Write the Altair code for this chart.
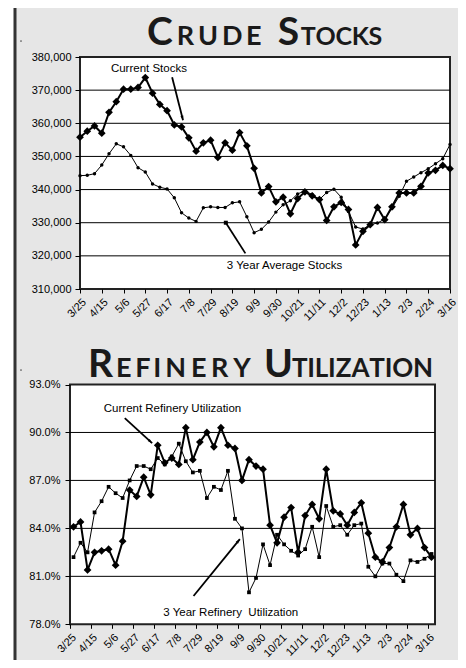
import json
import altair as alt
import pandas as pd

# ---------------- data ----------------
date_labels = ["3/25", "4/15", "5/6", "5/27", "6/17", "7/8", "7/29", "8/19", "9/9",
               "9/30", "10/21", "11/11", "12/2", "12/23", "1/13", "2/3", "2/24", "3/16"]

crude_current = [355800, 357600, 359200, 357000, 363300, 366500, 370300, 370300, 370800, 373800,
                 369100, 365700, 363800, 359500, 358900, 355600, 351600, 354100, 354900, 349700,
                 354100, 351900, 357200, 353200, 346400, 339000, 340900, 336300, 337700, 332700,
                 337300, 339300, 338100, 337000, 330700, 334800, 336100, 334000, 323300, 327400,
                 329400, 334600, 330900, 334800, 339000, 339000, 339000, 341000, 345000, 345800,
                 347300, 346300]
crude_avg = [344200, 344300, 344800, 347400, 350800, 353800, 352900, 350300, 346600, 345300,
             341700, 340700, 340200, 337500, 333000, 331400, 330400, 334500, 334800, 334600,
             334600, 336000, 336300, 331800, 327000, 328000, 330200, 333200, 335400, 336600,
             338700, 339600, 338500, 337000, 339100, 340100, 337700, 333400, 328700, 328100,
             329400, 329900, 331100, 334400, 338000, 342500, 343800, 345100, 346300, 347800,
             349300, 353600]
crude_ticks = [310000, 320000, 330000, 340000, 350000, 360000, 370000, 380000]

ref_current = [84.1, 84.4, 81.4, 82.5, 82.6, 82.7, 81.7, 83.2, 86.4, 86.0,
               87.2, 86.1, 89.2, 88.1, 88.4, 88.0, 90.3, 88.3, 89.4, 90.0,
               89.1, 90.3, 89.2, 89.0, 87.0, 88.3, 87.9, 87.7, 84.2, 83.1,
               84.7, 85.3, 82.5, 84.8, 85.5, 84.6, 87.7, 85.1, 84.9, 84.2,
               85.0, 85.6, 83.7, 82.2, 81.9, 82.8, 84.1, 85.5, 83.6, 84.0,
               82.8, 82.2]
ref_avg = [82.2, 83.1, 82.5, 85.0, 85.7, 86.6, 86.2, 85.9, 87.0, 87.9,
           87.9, 87.7, 88.4, 88.0, 88.5, 89.3, 88.2, 87.5, 87.6, 85.9,
           86.6, 86.4, 87.6, 84.6, 84.0, 80.0, 80.9, 83.0, 81.7, 83.6,
           83.0, 82.6, 82.3, 82.7, 84.1, 82.2, 85.4, 84.1, 84.2, 83.6,
           84.2, 84.3, 81.6, 81.0, 81.8, 81.8, 81.1, 80.7, 82.0, 81.9,
           82.1, 82.4]
ref_ticks = [78.0, 81.0, 84.0, 87.0, 90.0, 93.0]

# ---------------- layout ----------------
W, H = 450, 652
BG = "#e6e6e6"
AX_FONT = "Liberation Sans"
TITLE_FONT = "Lato"
lab_arr = json.dumps(date_labels)

weeks = list(range(len(crude_current)))
crude_df = pd.DataFrame({"week": weeks, "current": crude_current, "avg": crude_avg})
ref_df = pd.DataFrame({"week": weeks, "current": ref_current, "avg": ref_avg})

ARROW = "M0,0L0.55,1.7L-0.55,1.7Z"


def axis_common(**kw):
    base = dict(title=None, grid=False, domain=False, tickColor="black", tickWidth=1,
                labelFont=AX_FONT, labelFontSize=11, labelColor="black",
                labelOverlap=False, labelFlush=False, labelBound=False, zindex=1)
    base.update(kw)
    return alt.Axis(**base)


def panel(df, xdom, xrange, ydom, yrange, xaxis, yaxis, grid_vals, avg_shape, avg_size,
          notes, arrows, dots):
    xs = alt.Scale(domain=xdom, range=xrange, nice=False, zero=False)
    ys = alt.Scale(domain=ydom, range=yrange, nice=False, zero=False)

    def X(f):
        return alt.X(f, type="quantitative", scale=xs, axis=xaxis)

    def Y(f):
        return alt.Y(f, type="quantitative", scale=ys, axis=yaxis)

    box_df = pd.DataFrame({"x": [xdom[0]], "x2": [xdom[1]], "y": [ydom[0]], "y2": [ydom[1]]})
    box = alt.Chart(box_df).mark_rect(fill="white", stroke="#222", strokeWidth=2).encode(
        x=X("x"), x2="x2", y=Y("y"), y2="y2")
    gdf = pd.DataFrame({"v": grid_vals, "x": xdom[0], "x2": xdom[1]})
    grid = alt.Chart(gdf).mark_rule(color="black", strokeWidth=1).encode(
        x=X("x"), x2="x2", y=Y("v"))
    avg_line = alt.Chart(df).mark_line(color="black", strokeWidth=1).encode(x=X("week"), y=Y("avg"))
    avg_pts = alt.Chart(df).mark_point(shape=avg_shape, filled=True, size=avg_size, color="black",
                                       opacity=1).encode(x=X("week"), y=Y("avg"))
    cur_line = alt.Chart(df).mark_line(color="black", strokeWidth=2).encode(x=X("week"), y=Y("current"))
    cur_pts = alt.Chart(df).mark_point(shape="diamond", filled=True, size=60, color="black",
                                       opacity=1).encode(x=X("week"), y=Y("current"))
    ndf = pd.DataFrame(notes, columns=["x", "y", "t"])
    note = alt.Chart(ndf).mark_text(font=AX_FONT, fontSize=11.5, color="black", align="center",
                                    baseline="alphabetic").encode(x=X("x"), y=Y("y"), text="t:N")
    adf = pd.DataFrame(arrows, columns=["x", "y", "x2", "y2", "ang"])
    shaft = alt.Chart(adf).mark_rule(color="black", strokeWidth=1.8).encode(
        x=X("x"), y=Y("y"), x2="x2", y2="y2")
    hdf = adf[adf["ang"] >= 0]
    head = alt.Chart(hdf).mark_point(shape=ARROW, filled=True, size=30, color="black",
                                     opacity=1).encode(
        x=X("x2"), y=Y("y2"), angle=alt.Angle("ang:Q", scale=None))
    layers = [box, grid, avg_line, avg_pts, cur_line, cur_pts, note, shaft, head]
    if dots:
        ddf = pd.DataFrame(dots, columns=["x", "y"])
        layers.append(alt.Chart(ddf).mark_point(shape="square", filled=True, size=16, color="black",
                                                opacity=1).encode(x=X("x"), y=Y("y")))
    return alt.layer(*layers)


# crude panel: plot area (view coords) x 72..442, y 49..281
crude_xaxis = axis_common(orient="bottom", offset=281 - H, values=list(range(0, 52, 3)),
                          labelExpr=f"{lab_arr}[round(datum.value / 3)]", labelAngle=-45,
                          labelAlign="right", labelBaseline="top", tickSize=4, labelPadding=3)
crude_yaxis = axis_common(orient="left", offset=-72, values=crude_ticks,
                          labelExpr="format(datum.value, ',')", tickSize=5, labelPadding=4)
crude = panel(crude_df, [0, 51], [72, 442], [310000, 380000], [281, 49],
              crude_xaxis, crude_yaxis, crude_ticks[1:-1], "circle", 12,
              notes=[(9.5, 375500, "Current Stocks"), (28.2, 315900, "3 Year Average Stocks")],
              arrows=[(12.7, 373900, 14.2, 360900, 166), (20.1, 330000, 22.8, 320750, -1)],
              dots=[(20.1, 330000)])

# refinery panel: plot area x 62..427, y 376.5..616.3
ref_xaxis = axis_common(orient="bottom", offset=616.3 - H,
                        values=[-0.5 + 3 * k for k in range(18)],
                        labelExpr=f"{lab_arr}[round((datum.value + 0.5) / 3)]", labelAngle=-45,
                        labelAlign="right", labelBaseline="top", tickSize=4, labelPadding=3)
ref_yaxis = axis_common(orient="left", offset=-62, values=ref_ticks,
                        labelExpr="format(datum.value, '.1f') + '%'", tickSize=5, labelPadding=5)
refinery = panel(ref_df, [-0.5, 51.5], [62, 427], [78, 93], [616.3, 376.5],
                 ref_xaxis, ref_yaxis, ref_ticks[1:-1], "square", 14,
                 notes=[(14.1, 91.27, "Current Refinery Utilization"),
                        (22.4, 78.52, "3 Year Refinery\u00a0 Utilization")],
                 arrows=[(7.3, 90.9, 11.2, 89.33, 133), (17.1, 79.77, 23.7, 83.33, 39.5)],
                 dots=None)

one = pd.DataFrame({"a": [0]})
frame = alt.Chart(one).mark_rect(fill=BG, stroke="#333", strokeWidth=3).encode(
    x=alt.value(7), x2=alt.value(453.5), y=alt.value(-3), y2=alt.value(H + 4))

# small-caps titles: each piece is laid out letter by letter over the span it takes in the picture
LETTER_W = {"A": .68, "C": .66, "D": .74, "E": .56, "F": .53, "I": .29, "K": .67, "L": .50,
            "N": .76, "O": .80, "R": .64, "S": .54, "T": .59, "U": .73, "Y": .63, "Z": .62}
title_pieces = [  # text, left, right (page px), baseline (page px), font size
    ("C", 147, 173, 45, 39), ("RUDE", 175, 263, 45, 27),
    ("S", 279, 298, 45, 39), ("TOCKS", 301, 382, 45, 25),
    ("R", 89, 112, 376.7, 39), ("EFINERY", 114, 253, 376.7, 27),
    ("U", 267, 290, 376.7, 39), ("TILIZATION", 292, 433, 376.7, 26),
]
letters = []
for text, left, right, base, fs in title_pieces:
    ws = [LETTER_W[c] for c in text]
    scale = (right - left) / sum(ws)
    cum = 0.0
    for c, w in zip(text, ws):
        letters.append({"ch": c, "px": left + (cum + w / 2) * scale - 8, "py": base - 8, "fs": fs})
        cum += w
letters_df = pd.DataFrame(letters)
titles = alt.Chart(letters_df).mark_text(font=TITLE_FONT, fontWeight="bold", color="#1a1a1a",
                                         align="center", baseline="alphabetic").encode(
    x=alt.X("px:Q", scale=None), y=alt.Y("py:Q", scale=None), text="ch:N",
    size=alt.Size("fs:Q", scale=None, legend=None))

specks = alt.Chart(pd.DataFrame({"px": [13, 13], "py": [33, 362]})).mark_point(
    shape="circle", filled=True, size=3, color="#555", opacity=1).encode(
    x=alt.X("px:Q", scale=None), y=alt.Y("py:Q", scale=None))

chart = alt.layer(frame, specks, titles, crude, refinery).resolve_scale(
    x="independent", y="independent"
).properties(
    width=W, height=H, padding=0, autosize=alt.AutoSizeParams(type="none"), background="white"
).configure_view(stroke=None)

chart.save("out.html", embed_options={"renderer": "svg", "actions": False})
